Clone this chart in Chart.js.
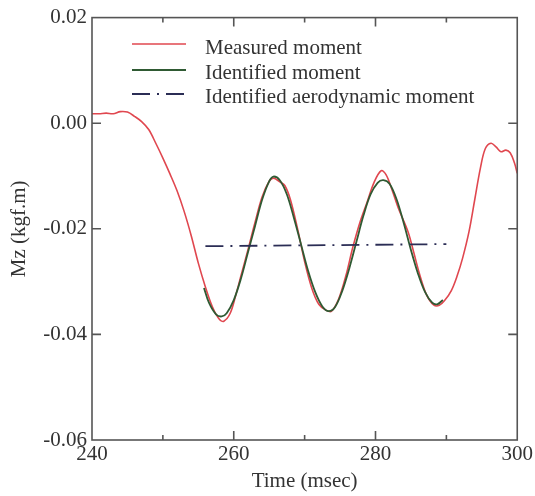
<!DOCTYPE html>
<html>
<head>
<meta charset="utf-8">
<script src="https://cdn.jsdelivr.net/npm/chart.js@4/dist/chart.umd.min.js"></script>
<style>
  html, body { margin: 0; padding: 0; background: #fff; }
  #wrap { width: 535px; height: 496px; }
</style>
</head>
<body>
<div id="wrap"><canvas id="mz" width="535" height="496"></canvas></div>
<script>
// time (msec) / moment (kgf.m) samples
const measuredTime = [240.0, 241.0, 242.0, 243.0, 244.0, 245.0, 246.0, 247.0, 248.0, 249.0,
    250.0, 251.0, 252.0, 253.0, 254.0, 255.0, 256.0, 257.0, 258.0, 258.6,
    259.5, 260.3, 261.0, 262.0, 263.0, 264.0, 265.0, 265.6, 266.5, 267.2,
    268.0, 269.0, 270.0, 271.0, 272.0, 273.0, 273.8, 274.8, 275.8, 276.8,
    277.8, 278.8, 279.8, 280.8, 281.5, 282.3, 283.2, 284.6, 285.4, 286.2,
    287.2, 288.2, 289.0, 289.8, 290.7, 291.5, 292.3, 293.2, 294.0, 294.8,
    295.5, 296.3, 297.0, 297.7, 298.4, 299.0, 299.6, 300.0];
const measuredMz = [0.0018, 0.0018, 0.0019, 0.0018, 0.0022, 0.0021, 0.0013, 0.0003, -0.0012, -0.0038,
    -0.0066, -0.0096, -0.0128, -0.0167, -0.0213, -0.0265, -0.0310, -0.0348, -0.0372, -0.0375,
    -0.0360, -0.0325, -0.0290, -0.0240, -0.0188, -0.0140, -0.0110, -0.0104, -0.0111, -0.0118,
    -0.0145, -0.0200, -0.0262, -0.0312, -0.0343, -0.0354, -0.0356, -0.0333, -0.0290, -0.0235,
    -0.0188, -0.0150, -0.0112, -0.0090, -0.0098, -0.0125, -0.0160, -0.0206, -0.0245, -0.0285,
    -0.0325, -0.0344, -0.0345, -0.0335, -0.0317, -0.0290, -0.0255, -0.0205, -0.0145, -0.0085,
    -0.0048, -0.0038, -0.0045, -0.0054, -0.0051, -0.0056, -0.0075, -0.0095];

const identTime = [255.8, 256.5, 257.5, 258.3, 259.0, 260.0, 261.0, 262.0, 263.0, 264.0,
    265.0, 265.6, 266.5, 267.5, 268.5, 269.5, 270.5, 271.5, 272.5, 273.4,
    274.3, 275.3, 276.3, 277.3, 278.3, 279.3, 280.3, 281.1, 282.0, 283.0,
    284.0, 285.0, 286.0, 287.0, 288.0, 288.7, 289.5];
const identMz = [-0.0312, -0.0340, -0.0362, -0.0366, -0.0360, -0.0335, -0.0295, -0.0245, -0.0195, -0.0145,
    -0.0110, -0.0101, -0.0108, -0.0135, -0.0180, -0.0230, -0.0280, -0.0320, -0.0347, -0.0356,
    -0.0348, -0.0318, -0.0275, -0.0225, -0.0175, -0.0135, -0.0113, -0.0108, -0.0115, -0.0145,
    -0.0190, -0.0240, -0.0285, -0.0320, -0.0340, -0.0343, -0.0335];

const aeroTime = [256.0, 290.0];
const aeroMz = [-0.0233, -0.0229];

const seriesLabels = ['Measured moment', 'Identified moment', 'Identified aerodynamic moment'];

const SERIF = "'Liberation Serif', 'Times New Roman', serif";
const INK = '#333';
const FRAME = '#555';

function pts(xs, ys) {
    return xs.map((x, i) => ({x: x, y: ys[i]}));
}

// frame + inward ticks on all four sides
const framePlug = {
    id: 'frame',
    afterDraw(chart) {
        const ctx = chart.ctx;
        const a = chart.chartArea;
        const xs = chart.scales.x, ys = chart.scales.y;
        ctx.save();
        ctx.strokeStyle = FRAME;
        ctx.lineWidth = 1.6;
        ctx.setLineDash([]);
        ctx.strokeRect(a.left, a.top, a.right - a.left, a.bottom - a.top);
        ctx.beginPath();
        xs.ticks.forEach(t => {
            if (t.value <= xs.min || t.value >= xs.max) return;
            const px = xs.getPixelForValue(t.value);
            const len = (Math.round(t.value) % 20 === 0) ? 9 : 5;
            ctx.moveTo(px, a.bottom); ctx.lineTo(px, a.bottom - len);
            ctx.moveTo(px, a.top); ctx.lineTo(px, a.top + len);
        });
        ys.ticks.forEach(t => {
            if (t.value <= ys.min + 1e-9 || t.value >= ys.max - 1e-9) return;
            const py = ys.getPixelForValue(t.value);
            ctx.moveTo(a.left, py); ctx.lineTo(a.left + 9, py);
            ctx.moveTo(a.right, py); ctx.lineTo(a.right - 9, py);
        });
        ctx.stroke();
        ctx.restore();
    }
};

// legend drawn in the upper left of the plot
const legendPlug = {
    id: 'innerLegend',
    afterDraw(chart) {
        const ctx = chart.ctx;
        const rows = [{line: 44, base: 54}, {line: 70, base: 79}, {line: 94, base: 103}];
        ctx.save();
        chart.data.datasets.forEach((ds, i) => {
            const r = rows[i];
            ctx.strokeStyle = ds.borderColor;
            ctx.lineWidth = ds.borderWidth;
            ctx.setLineDash(ds.borderDash || []);
            ctx.beginPath();
            ctx.moveTo(132, r.line);
            ctx.lineTo(186, r.line);
            ctx.stroke();
            ctx.setLineDash([]);
            ctx.fillStyle = INK;
            ctx.font = '21px ' + SERIF;
            ctx.textBaseline = 'alphabetic';
            ctx.fillText(ds.label, 205, r.base);
        });
        ctx.restore();
    }
};

const data = {
    datasets: [
        {
            label: seriesLabels[0],
            data: pts(measuredTime, measuredMz),
            borderColor: '#e0474f',
            borderWidth: 1.6,
            order: 3
        },
        {
            label: seriesLabels[1],
            data: pts(identTime, identMz),
            borderColor: '#2f5a33',
            borderWidth: 1.8,
            order: 2
        },
        {
            label: seriesLabels[2],
            data: pts(aeroTime, aeroMz),
            borderColor: '#2b2d55',
            borderWidth: 1.8,
            borderDash: [18, 7, 2, 7],
            tension: 0,
            order: 1
        }
    ]
};

const options = {
    responsive: false,
    animation: false,
    devicePixelRatio: 1,
    layout: {padding: {top: 15, right: 15, left: 0, bottom: 0}},
    elements: {
        point: {radius: 0},
        line: {tension: 0.35, fill: false}
    },
    plugins: {
        legend: {display: false},
        tooltip: {enabled: false}
    },
    scales: {
        x: {
            type: 'linear',
            min: 240,
            max: 300,
            border: {display: false},
            grid: {display: false, drawTicks: false},
            ticks: {
                stepSize: 10,
                padding: 2,
                maxRotation: 0,
                autoSkip: false,
                color: INK,
                font: {family: SERIF, size: 21},
                callback: v => (Math.round(v) % 20 === 0 ? String(Math.round(v)) : '')
            },
            title: {
                display: true,
                text: 'Time (msec)',
                color: INK,
                padding: {top: 0, bottom: 2},
                font: {family: SERIF, size: 21}
            },
            afterFit: s => { s.height = 56; }
        },
        y: {
            min: -0.06,
            max: 0.02,
            border: {display: false},
            grid: {display: false, drawTicks: false},
            ticks: {
                stepSize: 0.02,
                padding: 5,
                color: INK,
                font: {family: SERIF, size: 21},
                callback: v => v.toFixed(2)
            },
            title: {
                display: true,
                text: 'Mz (kgf.m)',
                color: INK,
                padding: {top: 7, bottom: 0},
                font: {family: SERIF, size: 21}
            },
            afterFit: s => { s.width = 92; }
        }
    }
};

new Chart(document.getElementById('mz').getContext('2d'), {
    type: 'line',
    data: data,
    options: options,
    plugins: [framePlug, legendPlug]
});
</script>
</body>
</html>
